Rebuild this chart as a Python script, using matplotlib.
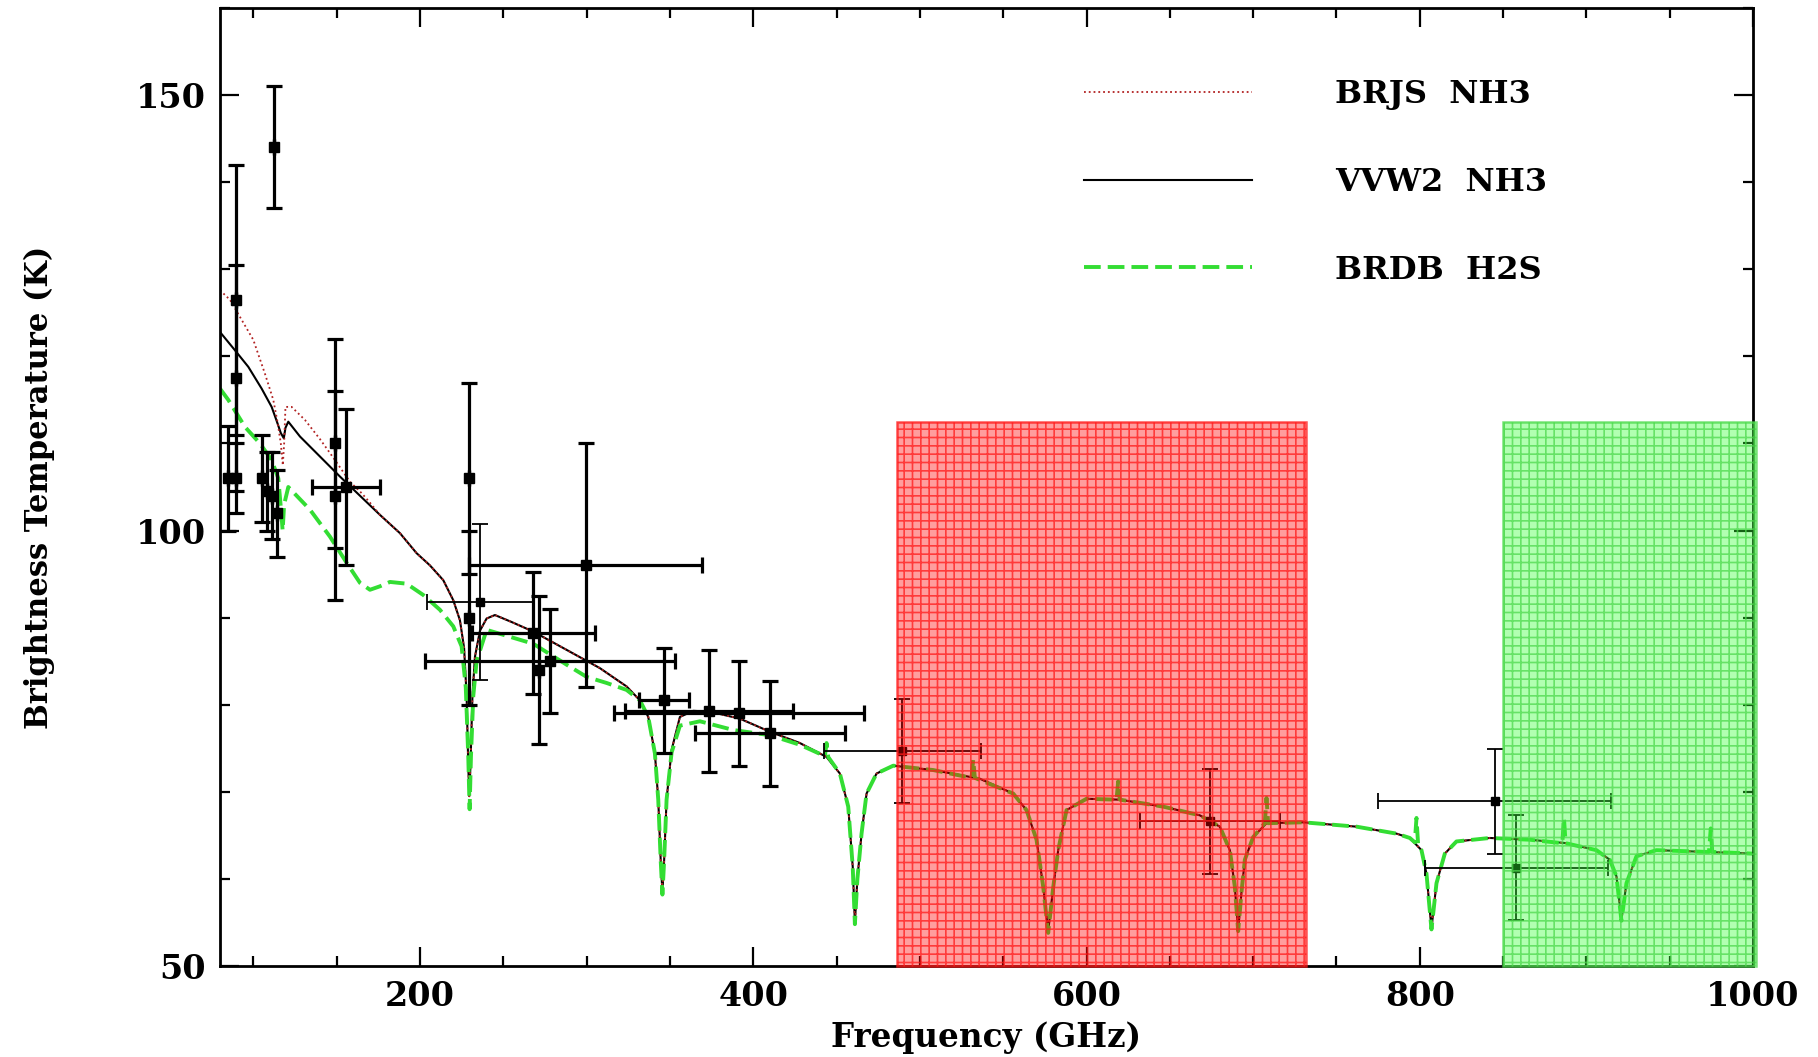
import matplotlib
matplotlib.use('Agg')
import matplotlib.pyplot as plt
from matplotlib.patches import Rectangle
from matplotlib.ticker import MultipleLocator

plt.rcParams['font.family'] = 'DejaVu Serif'
plt.rcParams['font.weight'] = 'bold'
plt.rcParams['hatch.linewidth'] = 1.2

# model spectra: frequency [GHz], brightness temperature [K]
vvw2_f = [80, 89, 97, 105, 111, 114, 116.5, 118.3, 119.3, 121, 128, 140, 152, 164, 176,
          188, 198, 206, 214, 220, 224, 226.5, 228, 229, 229.6, 230.3, 231.5, 233, 236,
          240, 245, 255, 268, 288, 308, 324, 332, 337, 341, 343, 344.5, 345.5, 346.5,
          348, 351, 356, 364, 374, 392, 410, 428, 444, 452, 457, 459.7, 461, 462.5, 465,
          468, 474, 484, 508, 536, 556, 564, 570, 574, 577, 580, 583, 588, 600, 620, 646,
          668, 680, 686, 689, 691, 693, 695, 700, 708, 730, 762, 786, 794, 801, 804, 807,
          810, 815, 822, 842, 866, 888, 906, 914, 918, 921, 924, 930, 942, 972, 1000]
vvw2_t = [122.8, 120.7, 118.8, 116.3, 114.2, 112.6, 111.2, 110.6, 111.8, 112.5, 110.8,
          108.5, 106.2, 104.0, 101.8, 99.7, 97.4, 96.0, 94.3, 92.0, 89.7, 86.5, 81.0, 73.0,
          69.5, 73.0, 81.0, 85.5, 88.5, 89.9, 90.3, 89.5, 88.4, 86.3, 84.2, 82.1, 80.5,
          78.6, 74.4, 69.1, 62.0, 58.5, 62.0, 69.1, 74.8, 78.6, 79.3, 79.2, 78.4, 76.9,
          75.6, 74.0, 72.1, 68.3, 61.4, 55.0, 60.0, 65.2, 69.8, 72.1, 73.0, 72.5, 71.5,
          69.8, 67.9, 64.5, 59.1, 54.0, 59.0, 63.3, 67.9, 69.2, 69.1, 68.3, 67.3, 66.0,
          63.3, 59.1, 54.1, 58.5, 62.2, 64.8, 66.4, 66.5, 66.0, 65.2, 64.7, 63.3, 60.6,
          54.3, 59.5, 62.9, 64.3, 64.7, 64.5, 64.1, 63.3, 62.2, 60.3, 55.3, 59.5, 62.6,
          63.3, 63.1, 62.9]

# BRJS differs from VVW2 only below ~175 GHz
brjs_low_f = [80, 86, 93, 100, 107, 112, 114.5, 116.5, 117.7, 118.5, 119.3, 123, 131,
              140, 149, 158, 165, 170]
brjs_low_t = [127.6, 126.5, 124.2, 121.9, 118.0, 115.0, 112.5, 110.0, 107.5, 110.0,
              114.2, 114.2, 112.7, 110.5, 108.1, 105.6, 104.3, 103.2]

brdb_f = [80, 85, 95, 104, 111, 115, 116.8, 117.6, 118.5, 121, 134, 146, 156, 164, 170,
          176, 182, 192, 202, 212, 220, 225, 227.5, 229, 229.8, 230.6, 232, 234, 240, 254,
          268, 288, 300, 312, 324, 332, 337, 341, 343, 344.5, 345.5, 346.5, 348, 351, 356,
          368, 388, 410, 428, 443, 444, 445, 452, 457, 459.7, 461, 462.5, 465, 468, 474,
          484, 508, 531, 532, 533, 556, 564, 570, 574, 577, 580, 583, 588, 600, 618, 619,
          620, 646, 668, 680, 686, 689, 691, 693, 695, 700, 707, 708, 709, 730, 762, 786,
          794, 797, 798, 799, 801, 804, 807, 810, 815, 822, 842, 866, 885.5, 886.5, 887.5,
          906, 914, 918, 921, 924, 930, 942, 972, 973.5, 974.6, 975.5, 1000]
brdb_t = [116.3, 115.0, 111.9, 110.0, 108.1, 106.0, 102.0, 100.0, 103.0, 105.0, 102.4,
          99.3, 96.3, 94.0, 93.2, 93.6, 94.1, 93.9, 92.6, 90.9, 89.0, 86.7, 82.0, 74.0,
          68.0, 74.0, 81.0, 85.0, 88.6, 87.8, 87.0, 84.6, 83.2, 82.5, 81.7, 80.5, 78.6,
          74.4, 69.1, 62.0, 58.2, 62.0, 69.1, 74.5, 77.6, 78.1, 77.1, 76.5, 75.4, 74.1,
          75.6, 74.0, 72.1, 68.3, 61.4, 54.8, 60.0, 65.2, 69.8, 72.1, 73.0, 72.5, 71.6,
          73.7, 71.6, 69.8, 67.9, 64.5, 59.1, 53.8, 59.0, 63.3, 67.9, 69.2, 69.1, 71.2,
          69.1, 68.3, 67.3, 66.0, 63.3, 59.1, 54.0, 58.5, 62.2, 64.8, 66.4, 69.3, 66.4,
          66.5, 66.0, 65.2, 64.7, 64.2, 67.0, 63.9, 63.3, 60.6, 54.2, 59.5, 62.9, 64.3,
          64.7, 64.5, 64.1, 67.0, 64.1, 63.3, 62.2, 60.3, 55.2, 59.5, 62.6, 63.3, 63.1,
          63.1, 65.8, 63.1, 62.9]

# measurements (thick bars)
obs_f = [85, 89.5, 89.5, 89.5, 105, 108, 111, 114.5, 112.5, 149, 149, 155.5, 229.5,
         229.5, 299.5, 268, 271.6, 278, 346.6, 373.6, 391.6, 410]
obs_t = [106, 126.5, 117.5, 106, 106, 104.5, 104, 102, 144, 110, 104, 105, 106, 90, 96,
         88.2, 84, 85, 80.5, 79.3, 79, 76.7]
obs_xerr = [0, 0, 0, 0, 0, 0, 0, 0, 0, 0, 0, 20.5, 0, 0, 70, 37, 0, 75, 15, 50.5, 75, 45]
obs_yerr = [6, 15.5, 13, 4, 5, 4.5, 5, 5, 7, 12, 12, 9, 11, 10, 14, 7, 8.5, 6, 6, 7, 6, 6]

# measurements (thin bars)
obs2_f = [236, 489.5, 674, 845, 858]
obs2_t = [91.8, 74.7, 66.6, 68.9, 61.3]
obs2_xerr = [32, 47, 42, 70, 55]
obs2_yerr = [9, 6, 6, 6, 6]

# shaded bands [GHz]
band_red = (486, 732)
band_green = (850, 1002)
band_top = 112.5

brjs_f = brjs_low_f + [f for f in vvw2_f if f >= 176]
brjs_t = brjs_low_t + [t for f, t in zip(vvw2_f, vvw2_t) if f >= 176]

fig = plt.figure(figsize=(18.18, 10.57), dpi=100)
ax = fig.add_axes([0.121, 0.0861, 0.8433, 0.9063])

l2, = ax.plot(vvw2_f, vvw2_t, color='black', lw=1.5, label='VVW2  NH3')
l1, = ax.plot(brjs_f, brjs_t, color='#b22222', lw=1.3, ls=':', label='BRJS  NH3')
l3, = ax.plot(brdb_f, brdb_t, color='#33dd33', lw=2.8, dashes=(4.3, 1.8),
              label='BRDB  H2S')

ax.errorbar(obs_f, obs_t, xerr=obs_xerr, yerr=obs_yerr, fmt='s', color='black',
            ms=6.5, elinewidth=2.3, capsize=5.5, capthick=2.3, zorder=4)
ax.errorbar(obs2_f, obs2_t, xerr=obs2_xerr, yerr=obs2_yerr, fmt='s', color='black',
            ms=5.5, elinewidth=1.3, capsize=5.5, capthick=1.3, zorder=4)

for (x0, x1), col, hcol in [(band_red, (1, 0, 0), (1, 0.1, 0.1, 0.75)),
                            (band_green, (0.2, 1, 0.2), (0.3, 0.85, 0.3, 0.75))]:
    ax.add_patch(Rectangle((x0, 50), x1 - x0, band_top - 50, facecolor=col,
                           alpha=0.38, edgecolor='none', zorder=5, clip_on=False))
    ax.add_patch(Rectangle((x0, 50), x1 - x0, band_top - 50, facecolor='none',
                           edgecolor=hcol, hatch='++', lw=1.8, zorder=5,
                           clip_on=False))

ax.set_xlim(80, 1000)
ax.set_ylim(50, 160)
ax.xaxis.set_major_locator(MultipleLocator(200))
ax.xaxis.set_minor_locator(MultipleLocator(50))
ax.yaxis.set_major_locator(MultipleLocator(50))
ax.yaxis.set_minor_locator(MultipleLocator(10))
ax.tick_params(which='both', direction='in', top=True, right=True, width=1.6,
               labelsize=24, pad=10)
ax.tick_params(which='major', length=14)
ax.tick_params(which='minor', length=7)
for s in ax.spines.values():
    s.set_linewidth(2)

ax.set_xlabel('Frequency (GHz)', fontsize=23.5, fontweight='bold', labelpad=6)
ax.set_ylabel('Brightness Temperature (K)', fontsize=22, fontweight='bold',
              labelpad=58)

ax.legend(handles=[l1, l2, l3], loc='upper left', bbox_to_anchor=(0.5636, 0.926),
          frameon=False, fontsize=23, handlelength=5.25, handletextpad=2.6,
          labelspacing=1.78, borderpad=0, borderaxespad=0)

fig.savefig('out.png', dpi=100)
